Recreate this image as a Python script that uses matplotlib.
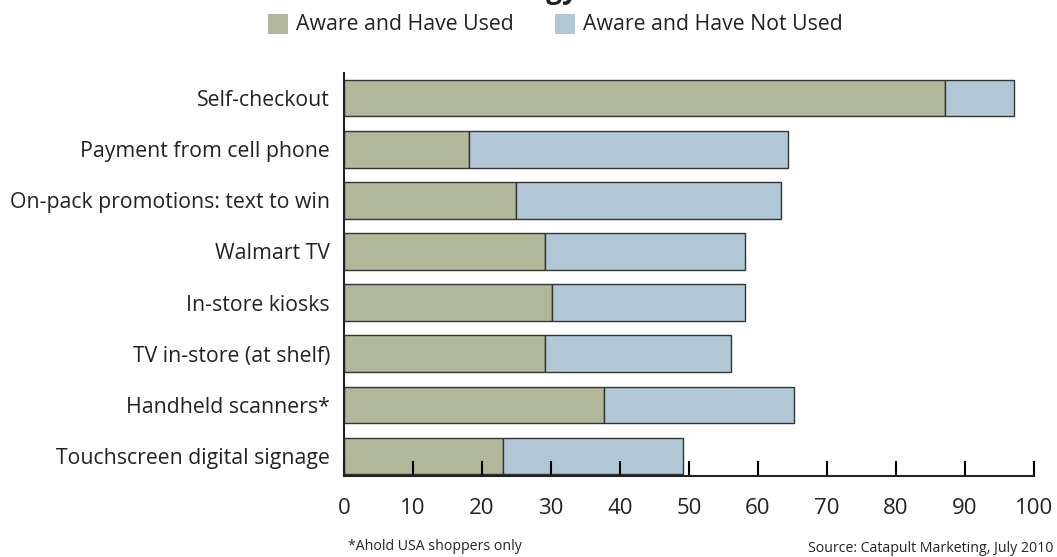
import matplotlib
matplotlib.use('Agg')
import matplotlib.pyplot as plt
from matplotlib.patches import Rectangle

plt.rcParams['font.family'] = ['Open Sans', 'DejaVu Sans']

# Survey results (% of shoppers)
technologies = ['Self-checkout', 'Payment from cell phone',
                'On-pack promotions: text to win', 'Walmart TV',
                'In-store kiosks', 'TV in-store (at shelf)',
                'Handheld scanners*', 'Touchscreen digital signage']
aware_used = [87.1, 18.1, 24.9, 29.1, 30.1, 29.1, 37.7, 23.0]
aware_total = [97.1, 64.3, 63.3, 58.1, 58.1, 56.1, 65.2, 49.1]
aware_not_used = [t - u for t, u in zip(aware_total, aware_used)]
x_ticks = list(range(0, 101, 10))

GREEN = '#b1b89a'
BLUE = '#b0c8d5'
EDGE = '#333333'

fig = plt.figure(figsize=(10.57, 5.57), dpi=100)
ax = fig.add_axes([344 / 1057, 1 - 476 / 557, 690 / 1057, 403 / 557])

ypos = list(range(len(technologies) - 1, -1, -1))
ax.barh(ypos, aware_used, height=0.72, color=GREEN, edgecolor=EDGE, linewidth=1)
ax.barh(ypos, aware_not_used, left=aware_used, height=0.72, color=BLUE,
        edgecolor=EDGE, linewidth=1)

ax.set_xlim(0, 100)
ax.set_ylim(-0.39, 7.49)
ax.set_xticks(x_ticks)
ax.set_xticklabels([str(v) for v in x_ticks], fontsize=16, color='#222222')
ax.tick_params(axis='x', direction='in', length=11, width=1.5, pad=16)
ax.set_yticks(ypos)
ax.set_yticklabels(technologies, fontsize=15.3, color='#222222')
ax.tick_params(axis='y', length=0, pad=10)

for side in ['top', 'right']:
    ax.spines[side].set_visible(False)
for side in ['left', 'bottom']:
    ax.spines[side].set_linewidth(1.5)
    ax.spines[side].set_color('#222222')

# Title (sits mostly above the canvas)
fig.text(578 / 1057, 1.004, 'Technology', ha='right', va='baseline',
         fontsize=20, fontweight='bold', color='#222222')

# Legend
for x0, label, col in [(268, 'Aware and Have Used', GREEN),
                       (555, 'Aware and Have Not Used', BLUE)]:
    fig.patches.append(Rectangle((x0 / 1057, 1 - 34 / 557), 20 / 1057, 20 / 557,
                                 transform=fig.transFigure, facecolor=col,
                                 edgecolor='none'))
    fig.text((x0 + 28) / 1057, 1 - 24 / 557, label, ha='left', va='center',
             fontsize=15.3, color='#222222')

fig.text(348 / 1057, 1 - 547 / 557, '*Ahold USA shoppers only', ha='left',
         va='center', fontsize=10.2, color='#222222')
fig.text(1053 / 1057, 1 - 549 / 557, 'Source: Catapult Marketing, July 2010',
         ha='right', va='center', fontsize=10.2, color='#222222')

fig.savefig('out.png', dpi=100)
